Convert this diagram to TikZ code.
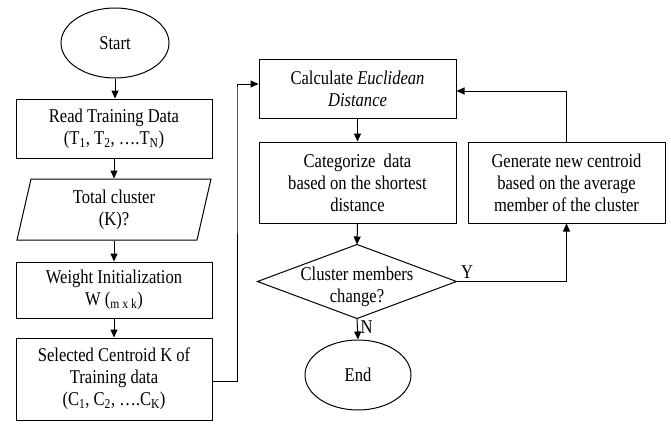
\documentclass[tikz,border=0pt]{standalone}
\usepackage{fontspec}
\setmainfont{Liberation Serif}[FakeStretch=0.85]
\usetikzlibrary{shapes.geometric,arrows.meta}
\begin{document}
\begin{tikzpicture}[x=1pt,y=-1pt,
  font=\fontsize{19.5}{22}\selectfont,
  line width=1pt,
  box/.style={draw, minimum width=196pt, align=center, inner sep=0pt},
  oval/.style={draw, ellipse, minimum width=108pt, minimum height=70pt, inner sep=0pt},
  plain/.style={align=center, inner sep=0pt},
  arr/.style={-{Triangle[length=8pt,width=7pt]}},
  lbl/.style={inner sep=1pt}
]
\useasboundingbox (0,0) rectangle (671,423);
% left column
\node[oval] (start) at (115,43) {Start};
\node[box, minimum height=59pt] (read) at (114,128.5) {Read Training Data\\(T\textsubscript{1}, T\textsubscript{2}, ….T\textsubscript{N})};
\node[plain, minimum width=180pt, minimum height=61pt] (total) at (114,209.5) {Total cluster\\(K)?};
\draw (17,240) -- (31,179) -- (211,179) -- (197,240) -- cycle;
\node[box, minimum height=56pt] (weight) at (114,290) {Weight Initialization\\W (\textsubscript{m x k})};
\node[box, minimum height=82pt] (sel) at (114,379) {Selected Centroid K of\\Training data\\(C\textsubscript{1}, C\textsubscript{2}, ….C\textsubscript{K})};
% right part
\node[box, minimum width=197pt, minimum height=59pt] (calc) at (357.5,88.5) {Calculate \textit{Euclidean}\\\textit{Distance}};
\node[box, minimum width=197pt, minimum height=81pt] (cat) at (357.5,182.5) {Categorize\ \ data\\based on the shortest\\distance};
\node[box, minimum width=197pt, minimum height=81pt] (gen) at (566.5,182.5) {Generate new centroid\\based on the average\\member of the cluster};
\node[plain, minimum width=198pt, minimum height=73pt] (dec) at (357,281.5) {};
\draw (dec.north) -- (dec.east) -- (dec.south) -- (dec.west) -- cycle;
\node[plain] at (357,287) {Cluster members\\change?};
\node[oval, minimum width=106pt] (end) at (358,375) {End};
% connectors
\draw[arr] (start) -- (read.north -| start);
\draw[arr] (read.south) -- (read.south |- total.north);
\draw[arr] (total.south) -- (weight.north);
\draw[arr] (weight.south) -- (sel.north);
\coordinate (lp) at (237,0);
\draw[arr] ([yshift=-2pt]sel.east) -| (lp |- calc.west) |- ([yshift=4.5pt]calc.west);
\draw[arr] (calc.south) -- (cat.north);
\draw[arr] (cat.south) -- (dec.north);
\draw[arr] (dec.south) -- (end.north);
\draw[arr] (dec.east) -| (gen.south);
\draw[arr] (gen.north) |- ([yshift=-2.5pt]calc.east);
\node[lbl, anchor=south west] at ([xshift=3pt,yshift=2pt]dec.east) {Y};
\node[lbl, anchor=west] at ([xshift=2pt,yshift=-9pt]dec.south) {N};
\end{tikzpicture}
\end{document}
